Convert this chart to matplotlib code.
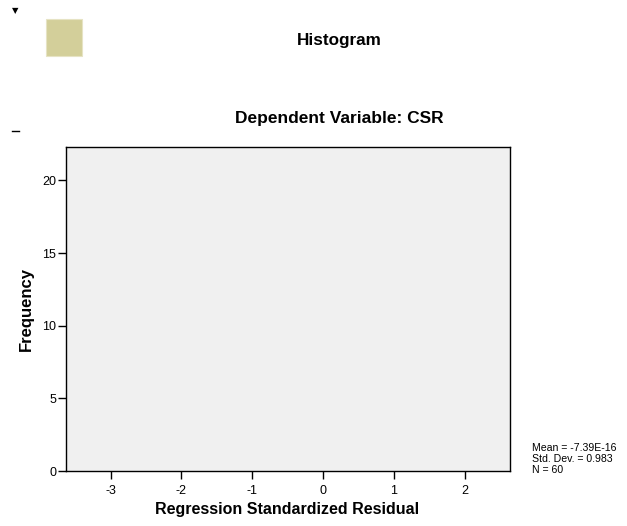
import matplotlib
matplotlib.use('Agg')
import matplotlib.pyplot as plt
from matplotlib.patches import Rectangle

plt.rcParams['font.family'] = ['Liberation Sans', 'DejaVu Sans']

# --- dati ---
titolo = 'Histogram'
sottotitolo = 'Dependent Variable: CSR'
x_ticks = [-3, -2, -1, 0, 1, 2]
y_ticks = [0, 5, 10, 15, 20]
x_lim = (-3.63, 2.64)
y_lim = (0, 22.3)
stat_nomi = ['Mean', 'Std. Dev.', 'N']
stat_valori = ['-7.39E-16', '0.983', '60']

fig = plt.figure(figsize=(6.27, 5.26), dpi=100)
ax = fig.add_axes([66 / 627, 1 - 471 / 526, 444 / 627, 324 / 526])

ax.set_facecolor('#f0f0f0')
ax.set_xlim(*x_lim)
ax.set_ylim(*y_lim)
ax.set_xticks(x_ticks)
ax.set_xticklabels([str(v) for v in x_ticks])
ax.set_yticks(y_ticks)
ax.tick_params(direction='out', length=6, width=1, labelsize=9)
ax.tick_params(axis='x', pad=4)
ax.tick_params(axis='y', pad=1)
for s in ax.spines.values():
    s.set_linewidth(1)

ax.set_xlabel('Regression Standardized Residual', fontsize=11.5, fontweight='bold', va='center')
ax.set_ylabel('Frequency', fontsize=12, fontweight='bold', va='center')
ax.xaxis.set_label_coords(0.498, -0.12)
ax.yaxis.set_label_coords(-0.09, 0.5)

# titoli
fig.text(339 / 627, 1 - 40 / 526, titolo, ha='center', va='center', fontsize=12.3, fontweight='bold')
fig.text(339 / 627, 1 - 118 / 526, sottotitolo, ha='center', va='center', fontsize=12.5, fontweight='bold')

# statistiche
testo = '\n'.join(f'{n} = {v}' for n, v in zip(stat_nomi, stat_valori))
fig.text(532 / 627, 1 - 459 / 526, testo, ha='left', va='center', fontsize=7.6, linespacing=1.1)

# decorazioni (riquadro colorato e segni in alto a sinistra)
fig.patches.append(Rectangle((46 / 627, 1 - 56 / 526), 36 / 627, 37 / 526,
                             transform=fig.transFigure, facecolor='#d3cf9a',
                             edgecolor='#e6e3c4', linewidth=0.8))
fig.text(15 / 627, 1 - 10.5 / 526, '\u25bc', ha='center', va='center', fontsize=6, color='black',
         family=['DejaVu Sans'])
fig.add_artist(plt.Line2D([12 / 627, 19 / 627], [1 - 131 / 526, 1 - 131 / 526],
                          transform=fig.transFigure, color='black', linewidth=1))

fig.savefig('out.png', dpi=100)
